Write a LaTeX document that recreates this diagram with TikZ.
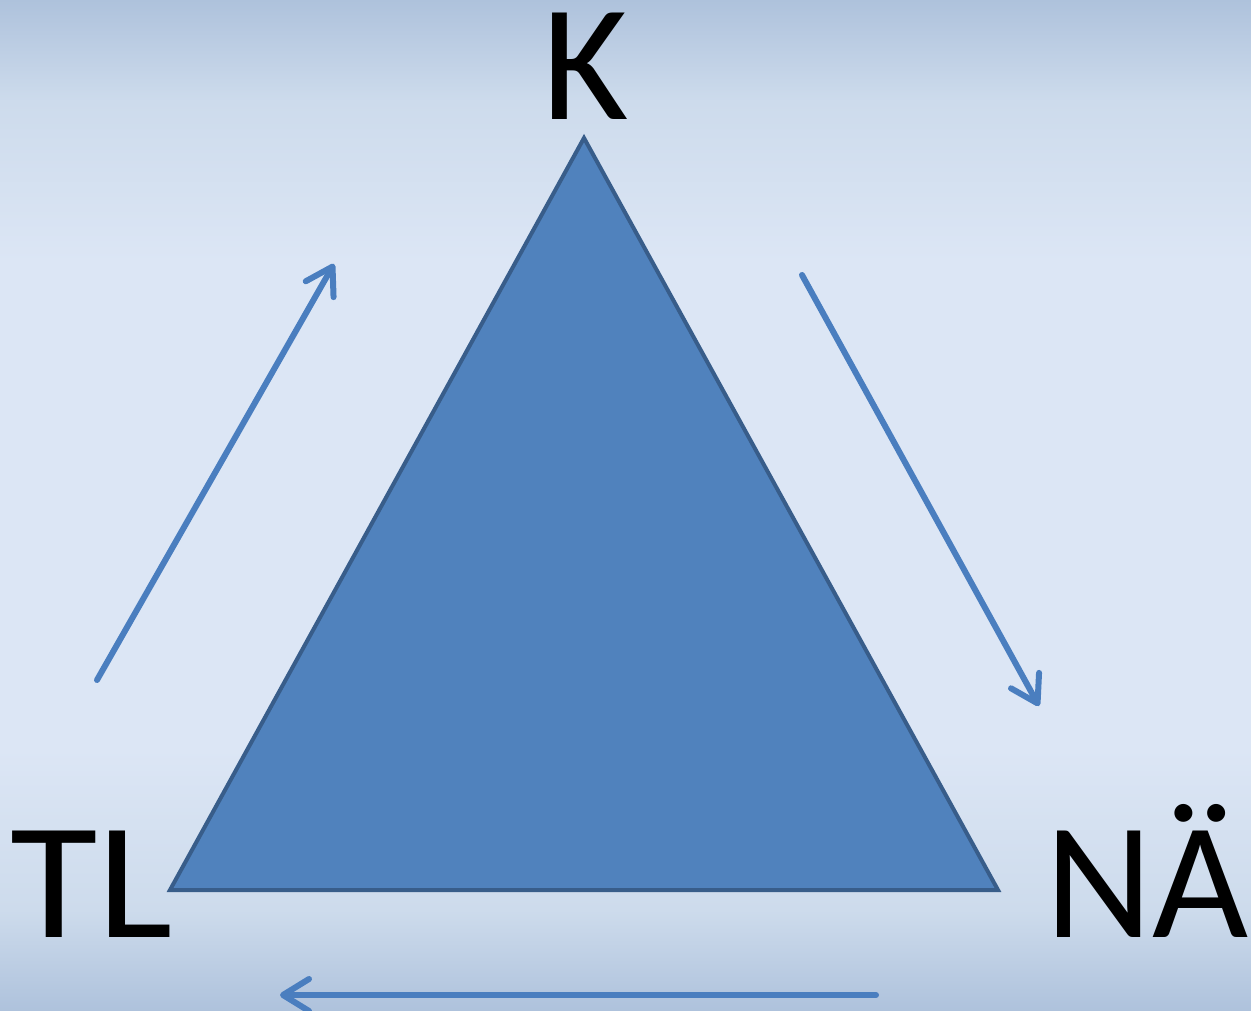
\documentclass[tikz,border=0pt]{standalone}
\usepackage{fontspec}
\setmainfont{Carlito}
\usetikzlibrary{arrows.meta}
\definecolor{bgedge}{RGB}{174,194,220}
\definecolor{bgmid}{RGB}{220,230,245}
\definecolor{bgnear}{RGB}{205,219,236}
\definecolor{trifill}{RGB}{80,130,189}
\definecolor{triedge}{RGB}{56,93,138}
\definecolor{arrowc}{RGB}{74,126,191}
\pgfdeclareverticalshading{bgshade}{100bp}{color(0bp)=(bgedge); color(25bp)=(bgedge); color(30bp)=(bgnear); color(38bp)=(bgmid); color(62bp)=(bgmid); color(70bp)=(bgnear); color(75bp)=(bgedge); color(100bp)=(bgedge)}
\tikzset{
  lbl/.style={inner sep=0pt, font=\fontsize{166}{166}\selectfont, text=black, text height=108pt, text depth=0pt},
  flow/.style={draw=arrowc, line width=6pt, line cap=round,
    -{Straight Barb[length=26pt, width=32pt, line width=6pt, round]}}
}
\begin{document}
\begin{tikzpicture}[x=1pt, y=-1pt]
\useasboundingbox (0,0) rectangle (1251,1011);
\shade[shading=bgshade] (0,0) rectangle (1251,1011);
\coordinate (apex) at (584,138);
\coordinate (bl) at (170,890);
\coordinate (br) at (998,890);
\fill[trifill, draw=triedge, line width=4pt, line join=miter] (apex) -- (br) -- (bl) -- cycle;
\node[lbl, anchor=base] (K) at (586,120) {K};
\node[lbl, anchor=base west, xscale=1.08] (TL) at (10,937) {TL};
\node[lbl, anchor=base east] (NA) at (1249,937) {NÄ};
\coordinate (a1s) at (97,680);
\coordinate (a1e) at (334,264);
\coordinate (a2s) at (802,275);
\coordinate (a2e) at (1039,706);
\coordinate (a3s) at (876,995);
\coordinate (a3e) at (280,995);
\draw[flow] (a1s) -- (a1e);
\draw[flow] (a2s) -- (a2e);
\draw[flow] (a3s) -- (a3e);
\end{tikzpicture}
\end{document}
